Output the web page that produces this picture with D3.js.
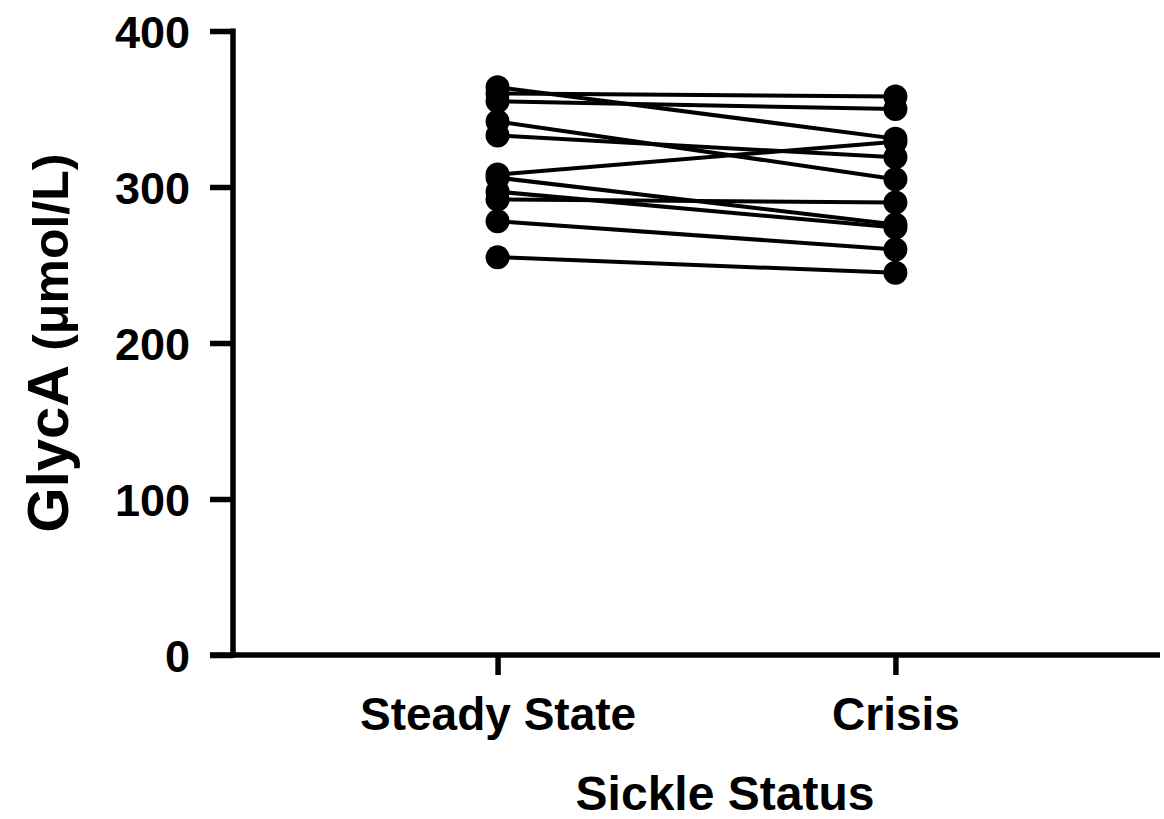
<!DOCTYPE html>
<html>
<head>
<meta charset="utf-8">
<script src="https://cdn.jsdelivr.net/npm/d3@7"></script>
<style>
  body { margin: 0; background: #fff; }
  text { font-family: "Liberation Sans", Arial, sans-serif; font-weight: bold; fill: #000; }
</style>
</head>
<body>
<svg id="chart" width="1164" height="819"></svg>
<script>
// paired GlycA values, same subject at index i
var categories = ['Steady State', 'Crisis'];
var steadyVals = [364, 360, 355, 342, 333, 308, 306, 297, 292, 278, 255];
var crisisVals = [331, 358, 350, 305, 319, 329, 276, 274, 290, 260, 245];
var yTicks = [0, 100, 200, 300, 400];

var svg = d3.select('#chart');

var x = d3.scalePoint()
  .domain(categories)
  .range([233, 1160])
  .padding(0.665);

var y = d3.scaleLinear()
  .domain([0, 400])
  .range([655, 31]);

// y axis
var yAxis = svg.append('g')
  .attr('transform', 'translate(233,0)')
  .call(d3.axisLeft(y).tickValues(yTicks).tickSize(23).tickSizeOuter(0).tickPadding(20));
yAxis.selectAll('path, line').attr('stroke', '#000').attr('stroke-width', 5.5);
yAxis.select('.domain').attr('d', 'M0,' + (y(400) - 2.5) + 'V' + (y(0) + 2.5));
yAxis.selectAll('text').style('font-size', '45px').attr('dy', '0.36em');

// x axis
var xAxis = svg.append('g')
  .attr('transform', 'translate(0,655)')
  .call(d3.axisBottom(x).tickSize(20).tickSizeOuter(0).tickPadding(22));
xAxis.selectAll('path, line').attr('stroke', '#000').attr('stroke-width', 5.5);
xAxis.select('.domain').attr('d', 'M210,0H1160');
xAxis.selectAll('text').style('font-size', '46px').attr('dy', '0.71em');

// pair lines
var pairs = steadyVals.map(function(v, i) { return [v, crisisVals[i]]; });

svg.append('g').selectAll('line')
  .data(pairs)
  .enter().append('line')
  .attr('x1', x(categories[0]))
  .attr('x2', x(categories[1]))
  .attr('y1', function(d) { return y(d[0]); })
  .attr('y2', function(d) { return y(d[1]); })
  .attr('stroke', '#000')
  .attr('stroke-width', 4);

// dots
var dots = svg.append('g');
dots.selectAll('circle.s')
  .data(steadyVals)
  .enter().append('circle')
  .attr('class', 's')
  .attr('cx', x(categories[0]))
  .attr('cy', function(d) { return y(d); })
  .attr('r', 12);
dots.selectAll('circle.c')
  .data(crisisVals)
  .enter().append('circle')
  .attr('class', 'c')
  .attr('cx', x(categories[1]))
  .attr('cy', function(d) { return y(d); })
  .attr('r', 12);

// axis titles
svg.append('text')
  .attr('x', 725)
  .attr('y', 810)
  .attr('text-anchor', 'middle')
  .style('font-size', '48px')
  .text('Sickle Status');

var yt = svg.append('text')
  .attr('transform', 'translate(68,343) rotate(-90)')
  .attr('text-anchor', 'middle')
  .style('font-size', '58px');
yt.append('tspan').text('GlycA ');
yt.append('tspan').style('font-size', '50px').text('(μmol/L)');
</script>
</body>
</html>
